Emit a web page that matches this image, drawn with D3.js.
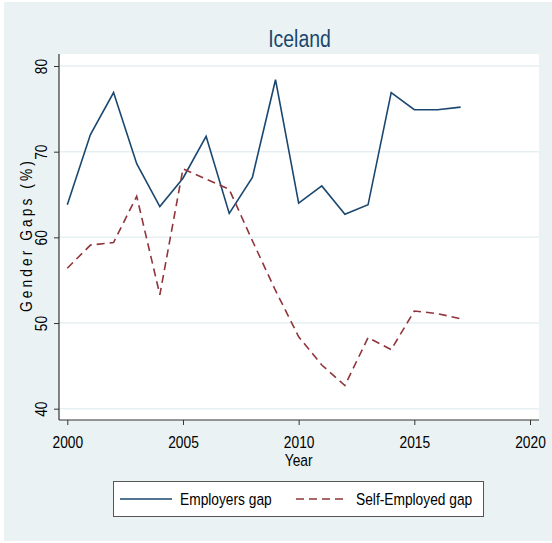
<!DOCTYPE html>
<html>
<head>
<meta charset="utf-8">
<script src="https://cdn.jsdelivr.net/npm/d3@7"></script>
<style>
    body { margin: 0; background: #ffffff; }
    text { font-family: "Liberation Sans", Arial, sans-serif; }
</style>
</head>
<body>
<div id="chart"></div>
<script>
// data
let years = [2000, 2001, 2002, 2003, 2004, 2005, 2006, 2007, 2008,
    2009, 2010, 2011, 2012, 2013, 2014, 2015, 2016, 2017];
let employersGap = [63.8, 72.0, 76.9, 68.6, 63.6, 66.9, 71.8, 62.8, 67.0,
    78.4, 64.0, 66.0, 62.7, 63.8, 76.9, 74.9, 74.9, 75.2];
let selfEmployedGap = [56.4, 59.1, 59.4, 64.8, 53.3, 68.0, 66.8, 65.6, 59.6,
    53.8, 48.4, 45.1, 42.7, 48.3, 46.9, 51.4, 51.1, 50.5];
let xTicks = [2000, 2005, 2010, 2015, 2020];
let yTicks = [40, 50, 60, 70, 80];
let seriesNames = ["Employers gap", "Self-Employed gap"];

let width = 552, height = 543;
let plot = {left: 59, right: 539, top: 54, bottom: 420};
// no narrow font installed, so squeeze the text horizontally
let narrow = 0.81;

let svg = d3.select("#chart").append("svg")
    .attr("width", width)
    .attr("height", height);

// graph region background
svg.append("rect")
    .attr("x", 4).attr("y", 2)
    .attr("width", 548).attr("height", 539)
    .attr("fill", "#eaf2f3");

// plot region
svg.append("rect")
    .attr("x", plot.left).attr("y", plot.top)
    .attr("width", plot.right - plot.left)
    .attr("height", plot.bottom - plot.top)
    .attr("fill", "#ffffff");

let x = d3.scaleLinear()
    .domain([2000, 2020])
    .range([67.3, 530]);

let y = d3.scaleLinear()
    .domain([40, 80])
    .range([408.7, 66]);

// gridlines
svg.selectAll(".grid")
    .data(yTicks)
    .enter().append("line")
    .attr("class", "grid")
    .attr("x1", plot.left).attr("x2", plot.right)
    .attr("y1", d => y(d)).attr("y2", d => y(d))
    .attr("stroke", "#e6eff1")
    .attr("stroke-width", 1.5);

// axes
let yAxis = d3.axisLeft(y)
    .tickValues(yTicks)
    .tickSize(5)
    .tickFormat(d3.format("d"));

let yAxisGroup = svg.append("g")
    .attr("transform", `translate(${plot.left},0)`)
    .call(yAxis);
yAxisGroup.select(".domain").remove();
yAxisGroup.selectAll("line").attr("stroke", "#333");
yAxisGroup.selectAll("text")
    .attr("x", 0).attr("dy", 0)
    .attr("transform", `translate(-12,0) rotate(-90) scale(${narrow},1)`)
    .attr("text-anchor", "middle")
    .attr("font-size", 17)
    .attr("fill", "#000");

let xAxis = d3.axisBottom(x)
    .tickValues(xTicks)
    .tickSize(5)
    .tickFormat(d3.format("d"));

let xAxisGroup = svg.append("g")
    .attr("transform", `translate(0,${plot.bottom})`)
    .call(xAxis);
xAxisGroup.select(".domain").remove();
xAxisGroup.selectAll("line").attr("stroke", "#333");
xAxisGroup.selectAll("text")
    .attr("y", 28.5).attr("dy", 0)
    .attr("transform", `scale(${narrow},1)`)
    .attr("font-size", 17)
    .attr("fill", "#000");

// axis lines spanning the plot region
svg.append("line")
    .attr("x1", plot.left).attr("x2", plot.left)
    .attr("y1", plot.top).attr("y2", plot.bottom)
    .attr("stroke", "#333").attr("stroke-width", 1.2);
svg.append("line")
    .attr("x1", plot.left).attr("x2", plot.right)
    .attr("y1", plot.bottom).attr("y2", plot.bottom)
    .attr("stroke", "#333").attr("stroke-width", 1.2);

function addText(px, py, str, size, color, anchor) {
    return svg.append("text")
        .attr("transform", `translate(${px},${py}) scale(${narrow},1)`)
        .attr("text-anchor", anchor || "start")
        .attr("font-size", size)
        .attr("fill", color)
        .text(str);
}

// titles
addText(299.5, 47, "Iceland", 24, "#1a476f", "middle");
addText(x(2010), 466, "Year", 17, "#000", "middle");

svg.append("text")
    .attr("transform", `translate(32,${(plot.top + plot.bottom) / 2 - 2})
        rotate(-90) scale(${narrow},1)`)
    .attr("text-anchor", "middle")
    .attr("font-size", 17)
    .attr("letter-spacing", 3.8)
    .attr("fill", "#000")
    .text("Gender Gaps (%)");

// lines
let line = d3.line()
    .x(d => x(d[0]))
    .y(d => y(d[1]));

svg.append("path")
    .datum(years.map((d, i) => [d, employersGap[i]]))
    .attr("d", line)
    .attr("fill", "none")
    .attr("stroke", "#1a476f")
    .attr("stroke-width", 1.6);

svg.append("path")
    .datum(years.map((d, i) => [d, selfEmployedGap[i]]))
    .attr("d", line)
    .attr("fill", "none")
    .attr("stroke", "#90353b")
    .attr("stroke-width", 1.6)
    .attr("stroke-dasharray", "8,5");

// legend
svg.append("rect")
    .attr("x", 113.5).attr("y", 481.5)
    .attr("width", 370).attr("height", 35)
    .attr("fill", "#ffffff")
    .attr("stroke", "#555")
    .attr("stroke-width", 1);

let keys = [
    {name: seriesNames[0], color: "#1a476f", dash: null, x: 120},
    {name: seriesNames[1], color: "#90353b", dash: "8,5", x: 296}
];
keys.forEach(k => {
    svg.append("line")
        .attr("x1", k.x).attr("x2", k.x + 52)
        .attr("y1", 499).attr("y2", 499)
        .attr("stroke", k.color)
        .attr("stroke-width", 1.6)
        .attr("stroke-dasharray", k.dash);
    addText(k.x + 60, 505, k.name, 17, "#000");
});
</script>
</body>
</html>
